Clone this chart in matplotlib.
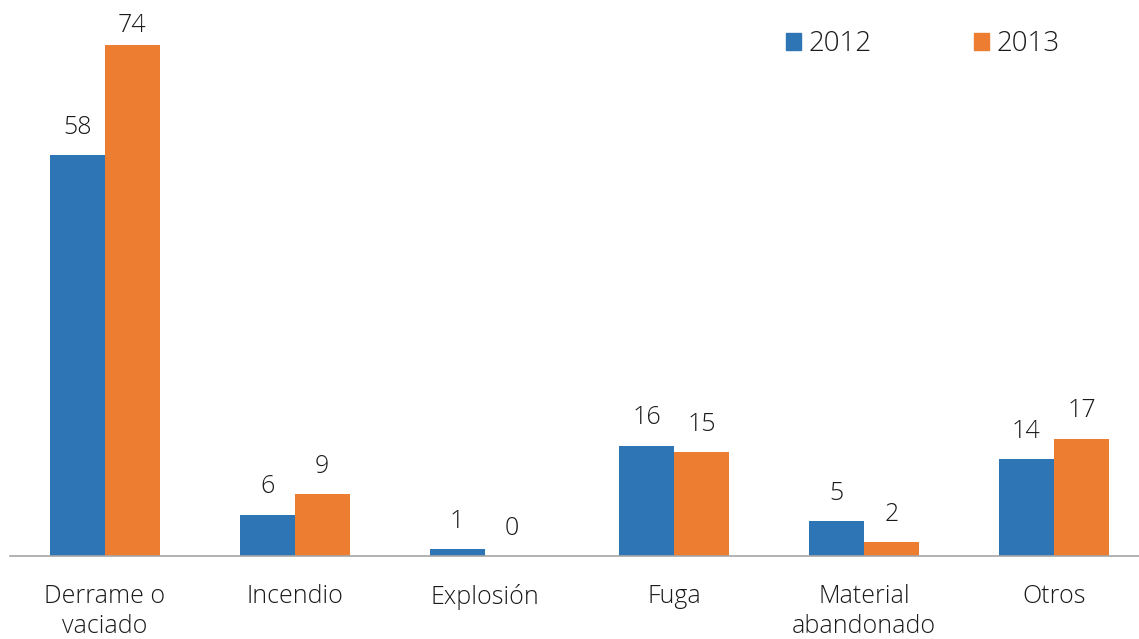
import numpy as np
import matplotlib.pyplot as plt
from matplotlib.patches import Patch

categorias = ['Derrame o\nvaciado', 'Incendio', 'Explosión', 'Fuga', 'Material\nabandonado', 'Otros']
v2012 = [58, 6, 1, 16, 5, 14]
v2013 = [74, 9, 0, 15, 2, 17]

azul = '#2E75B6'
naranja = '#ED7D31'
texto = '#1A1A1A'

plt.rcParams['font.family'] = ['Open Sans', 'DejaVu Sans']

fig = plt.figure(figsize=(11.39, 6.39), dpi=100)
# group spacing ~190 px, so the axis runs past the right edge like the reference
ax = fig.add_axes([10/1139, (639-556)/639, 6*189.8/1139, 556/639])

x = np.arange(len(categorias))
w = 55/189.8
b1 = ax.bar(x - w/2, v2012, w, color=azul)
b2 = ax.bar(x + w/2, v2013, w, color=naranja)

for bars, vals in ((b1, v2012), (b2, v2013)):
    for b, v in zip(bars, vals):
        off = 11 if v < 70 else 5
        ax.annotate(str(v), (b.get_x() + b.get_width()/2, v), xytext=(0, off),
                    textcoords='offset points', ha='center', va='bottom',
                    fontsize=18, color=texto, fontweight='light')

ax.set_xlim(-0.5, len(categorias) - 0.5)
ax.set_ylim(0, 74 * 556 / (556 - 45))
ax.set_yticks([])
ax.set_xticks(x)
ax.set_xticklabels(categorias, fontsize=18, color=texto, fontweight='light',
                   linespacing=1.25)
ax.tick_params(axis='x', length=0, pad=20)
for s in ['top', 'right', 'left']:
    ax.spines[s].set_visible(False)
ax.spines['bottom'].set_color('#A6A6A6')
ax.spines['bottom'].set_linewidth(1.2)

handles = [Patch(color=azul, label='2012'), Patch(color=naranja, label='2013')]
ax.legend(handles=handles, ncol=2, loc='upper left',
          bbox_to_anchor=(776/(6*189.8), 1 - 30/556),
          frameon=False, borderpad=0, borderaxespad=0,
          handlelength=0.55, handleheight=0.55,
          handletextpad=0.25, columnspacing=3.7, labelcolor=texto,
          prop={'weight': 'light', 'size': 20})

fig.savefig('out.png', dpi=100)
